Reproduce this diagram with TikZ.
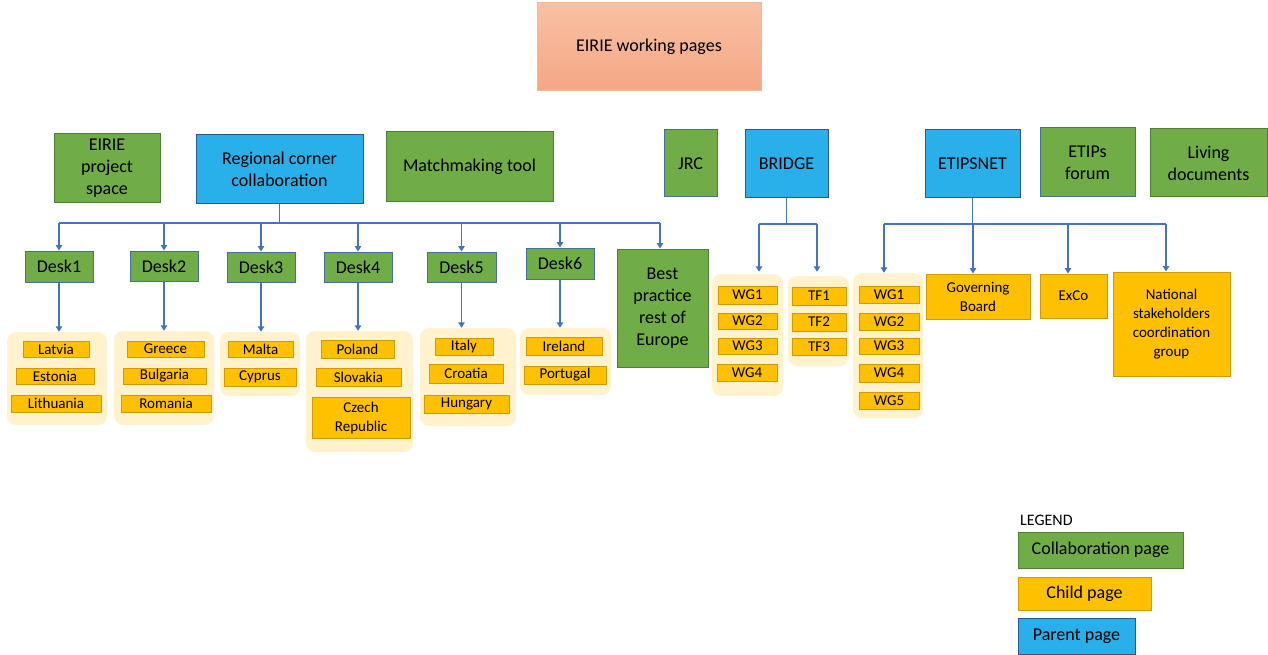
\documentclass[tikz,border=0pt]{standalone}
\usepackage{fontspec}
\setmainfont{Carlito}
\usetikzlibrary{arrows.meta}
\definecolor{cgreen}{HTML}{70AD47}
\definecolor{cgreenb}{HTML}{507E32}
\definecolor{cblue}{HTML}{29B0EA}
\definecolor{cblueb}{HTML}{2F5597}
\definecolor{cbord}{HTML}{41719C}
\definecolor{corange}{HTML}{FFC000}
\definecolor{corangeb}{HTML}{D09A00}
\definecolor{cgroup}{HTML}{FFF2CC}
\definecolor{cline}{HTML}{4472C4}
\definecolor{ctitletop}{HTML}{F8C1A4}
\definecolor{ctitlebot}{HTML}{F4A684}
\definecolor{ctitleb}{HTML}{F4B890}
\newcommand\bx[7]{\node[#2,minimum width={((#5)-(#3))*1pt},minimum height={((#6)-(#4))*1pt}] (#1) at ({((#3)+(#5))/2},{((#4)+(#6))/2}) {#7};}
\tikzset{
  base/.style={inner sep=0pt,align=center,font=\fontsize{18}{22}\selectfont,line width=1pt},
  collab/.style={base,fill=cgreen,draw=cgreenb},
  collabb/.style={base,fill=cgreen,draw=cbord},
  parent/.style={base,fill=cblue,draw=cblueb},
  child/.style={base,fill=corange,draw=corangeb,font=\fontsize{15}{19}\selectfont},
  grp/.style={inner sep=0pt,fill=cgroup,rounded corners=9pt},
  titlebox/.style={base,top color=ctitletop,bottom color=ctitlebot,draw=ctitleb},
  line/.style={draw=cline,line width=1.8pt},
  arr/.style={line,-{Triangle[width=6.5pt,length=5.5pt]}},
}
\begin{document}
\begin{tikzpicture}[x=1pt,y=-1pt]
\useasboundingbox (0,0) rectangle (1268,655);
% title
\bx{title}{titlebox}{537}{3}{761}{91}{EIRIE working pages}
% top row
\bx{eps}{collab}{54}{134}{160}{202}{EIRIE\\project\\space}
\bx{reg}{parent}{196}{135}{363}{203}{Regional corner\\collaboration}
\bx{mm}{collab}{386}{132}{553}{201}{Matchmaking tool}
\bx{jrc}{collabb}{664}{130}{717}{197}{JRC}
\bx{bridge}{parent}{745}{130}{828}{198}{BRIDGE}
\bx{etips}{parent}{925}{130}{1020}{198}{ETIPSNET}
\bx{forum}{collabb}{1040}{128}{1135}{197}{ETIPs\\forum}
\bx{living}{collab}{1150}{129}{1267}{197}{Living\\documents}
% desks
\bx{d1}{collabb}{25}{251}{93}{282}{Desk1}
\bx{d2}{collabb}{130}{251}{198}{281}{Desk2}
\bx{d3}{collabb}{227}{252}{295}{282}{Desk3}
\bx{d4}{collabb}{324}{252}{392}{282}{Desk4}
\bx{d5}{collabb}{427}{252}{496}{282}{Desk5}
\bx{d6}{collabb}{526}{248}{594}{279}{Desk6}
\bx{best}{collab}{617}{249}{708}{367}{Best\\practice\\rest of\\Europe}
% groups
\bx{g1}{grp}{7}{332}{107}{425}{}
\bx{g2}{grp}{114}{331}{214}{425}{}
\bx{g3}{grp}{220}{332}{300}{396}{}
\bx{g4}{grp}{306}{331}{413}{452}{}
\bx{g5}{grp}{420}{328}{516}{426}{}
\bx{g6}{grp}{520}{328}{611}{395}{}
\bx{gbw}{grp}{712}{274}{783}{396}{}
\bx{gbt}{grp}{788}{276}{849}{366}{}
\bx{gew}{grp}{853}{273}{923}{418}{}
% children
\bx{latvia}{child}{23}{341}{89}{357}{Latvia}
\bx{estonia}{child}{16}{368}{94}{384}{Estonia}
\bx{lith}{child}{11}{395}{101}{412}{Lithuania}
\bx{greece}{child}{127}{341}{204}{357}{Greece}
\bx{bulg}{child}{123}{368}{206}{384}{Bulgaria}
\bx{rom}{child}{121}{395}{211}{412}{Romania}
\bx{malta}{child}{228}{341}{293}{357}{Malta}
\bx{cyprus}{child}{224}{368}{296}{386}{Cyprus}
\bx{poland}{child}{321}{340}{394}{358}{Poland}
\bx{slovakia}{child}{316}{368}{401}{386}{Slovakia}
\bx{czech}{child}{312}{397}{410}{438}{Czech\\Republic}
\bx{italy}{child}{435}{338}{493}{355}{Italy}
\bx{croatia}{child}{429}{364}{503}{383}{Croatia}
\bx{hungary}{child}{424}{395}{509}{413}{Hungary}
\bx{ireland}{child}{526}{337}{602}{355}{Ireland}
\bx{portugal}{child}{524}{366}{606}{384}{Portugal}
\bx{bwg1}{child}{718}{286}{777}{304}{WG1}
\bx{bwg2}{child}{718}{313}{777}{329}{WG2}
\bx{bwg3}{child}{718}{338}{777}{354}{WG3}
\bx{bwg4}{child}{717}{364}{777}{381}{WG4}
\bx{tf1}{child}{792}{287}{846}{305}{TF1}
\bx{tf2}{child}{792}{313}{846}{331}{TF2}
\bx{tf3}{child}{792}{338}{846}{355}{TF3}
\bx{ewg1}{child}{859}{286}{919}{303}{WG1}
\bx{ewg2}{child}{859}{313}{919}{330}{WG2}
\bx{ewg3}{child}{859}{338}{919}{354}{WG3}
\bx{ewg4}{child}{859}{364}{919}{382}{WG4}
\bx{ewg5}{child}{859}{392}{919}{409}{WG5}
\bx{gov}{child}{926}{274}{1030}{319}{Governing\\Board}
\bx{exco}{child}{1040}{274}{1107}{318}{ExCo}
\bx{nat}{child}{1113}{272}{1230}{376}{National\\stakeholders\\coordination\\group}
% legend
\node[anchor=west,inner sep=0pt,font=\fontsize{16}{19}\selectfont] (leg) at (1020,520) {LEGEND};
\bx{lcollab}{collab}{1018}{532}{1183}{568}{Collaboration page}
\bx{lchild}{child}{1018}{577}{1151}{610}{\fontsize{18}{22}\selectfont Child page}
\bx{lparent}{parent}{1018}{618}{1135}{654}{Parent page}
% connectors: regional corner
\coordinate (rL) at (59,223);
\coordinate (rR) at (660,223);
\draw[line] (reg.south) -- (reg.south |- rL);
\draw[line] (rL) -- (rR);
\foreach \n in {d1,d2,d3,d4,d5,d6}{\draw[arr] (\n.north |- rL) -- (\n.north);}
\draw[arr] (rR) -- (rR |- best.north);
\draw[arr] (d1.south) -- (d1.south |- g1.north);
\draw[arr] (d2.south) -- (d2.south |- g2.north);
\draw[arr] (d3.south) -- (d3.south |- g3.north);
\draw[arr] (d4.south) -- (d4.south |- g4.north);
\draw[arr] (d5.south) -- (d5.south |- g5.north);
\draw[arr] (d6.south) -- (d6.south |- g6.north);
% bridge
\coordinate (bL) at (759,224);
\coordinate (bR) at (817,224);
\draw[line] (bridge.south) -- (bridge.south |- bL);
\draw[line] (bL) -- (bR);
\draw[arr] (bL) -- ([yshift=2pt]bL |- gbw.north);
\draw[arr] (bR) -- ([yshift=4pt]bR |- gbt.north);
% etipsnet
\coordinate (eL) at (884,224);
\coordinate (eG) at (973,224);
\coordinate (eX) at (1068,224);
\coordinate (eR) at (1166,224);
\draw[line] (etips.south) -- (etips.south |- eL);
\draw[line] (eL) -- (eR);
\draw[arr] (eL) -- (eL |- gew.north);
\draw[arr] (eG) -- (eG |- gov.north);
\draw[arr] (eX) -- (eX |- exco.north);
\draw[arr] (eR) -- (eR |- nat.north);
\end{tikzpicture}
\end{document}
